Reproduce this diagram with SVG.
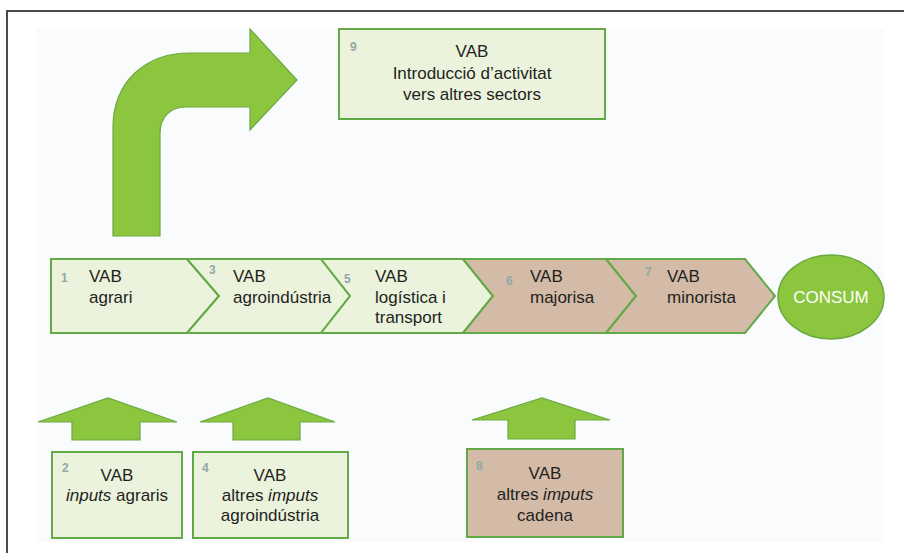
<svg xmlns="http://www.w3.org/2000/svg" width="904" height="553" viewBox="0 0 904 553">
<style>
text{font-family:"Liberation Sans",Arial,sans-serif;font-size:17px;fill:#231f20}
.num{font-size:12px;font-weight:bold;fill:#8fa9a6}
.c{text-anchor:middle}
.box{fill:#ebf3dd;stroke:#62aa45;stroke-width:2}
.tan{fill:#d4bba7;stroke:#62aa45;stroke-width:2}
.arr{fill:#8cc63f;stroke:#6aa940;stroke-width:1.2;stroke-linejoin:miter}
</style>
<rect x="0" y="0" width="904" height="553" fill="#ffffff"/>
<rect x="36" y="29" width="848" height="513" fill="#fafbfd"/>
<path d="M7,553 L7,11 L904,11" fill="none" stroke="#4a4a4a" stroke-width="2"/>

<g id="connectors">
  <path class="arr" d="M113,236 L113,128 C113,82 145,53 190,53 L250,53 L250,29 L297,80 L250,130 L250,107 L186,107 C170,107 160,117 160,134 L160,236 Z"/>
  <path class="arr" d="M72,440 L72,422 L38,422 L108,398 L177,422 L140,422 L140,440 Z"/>
  <path class="arr" d="M233,440 L233,422 L200,422 L268,398 L335,422 L300,422 L300,440 Z"/>
  <path class="arr" d="M508,439 L508,420 L472,420 L542,398 L610,420 L575,420 L575,439 Z"/>
</g>

<g id="node9">
  <rect class="box" x="339" y="29" width="266" height="90"/>
  <text class="num" x="350" y="51">9</text>
  <text class="c" x="472" y="57">VAB</text>
  <text class="c" x="472" y="79">Introducció d’activitat</text>
  <text class="c" x="472" y="100">vers altres sectors</text>
</g>

<g id="node1">
  <path class="box" d="M51,259 L187,259 L219,296 L187,333 L51,333 Z"/>
  <text class="num" x="61" y="282">1</text>
  <text x="89" y="282">VAB</text>
  <text x="89" y="303">agrari</text>
</g>
<g id="node3">
  <path class="box" d="M187,259 L321,259 L350,296 L321,333 L187,333 L219,296 Z"/>
  <text class="num" x="209" y="274">3</text>
  <text x="233" y="282">VAB</text>
  <text x="233" y="303">agroindústria</text>
</g>
<g id="node5">
  <path class="box" d="M321,259 L463,259 L493,296 L463,333 L321,333 L350,296 Z"/>
  <text class="num" x="344" y="283">5</text>
  <text x="375" y="282">VAB</text>
  <text x="375" y="303">logística i</text>
  <text x="375" y="323">transport</text>
</g>
<g id="node6">
  <path class="tan" d="M463,259 L606,259 L636,296 L606,333 L463,333 L493,296 Z"/>
  <text class="num" x="506" y="285">6</text>
  <text x="530" y="282">VAB</text>
  <text x="530" y="303">majorisa</text>
</g>
<g id="node7">
  <path class="tan" d="M606,259 L745,259 L775,296 L745,333 L606,333 L636,296 Z"/>
  <text class="num" x="645" y="276">7</text>
  <text x="667" y="282">VAB</text>
  <text x="667" y="303">minorista</text>
</g>
<g id="consum">
  <ellipse cx="831" cy="297" rx="53" ry="42" fill="#8cc63f" stroke="#6aa940" stroke-width="1.5"/>
  <text class="c" x="831" y="303" style="fill:#ffffff">CONSUM</text>
</g>

<g id="node2">
  <rect class="box" x="52" y="452" width="130" height="86"/>
  <text class="num" x="62" y="472">2</text>
  <text class="c" x="117" y="481">VAB</text>
  <text class="c" x="117" y="501"><tspan font-style="italic">inputs</tspan> agraris</text>
</g>
<g id="node4">
  <rect class="box" x="193" y="452" width="155" height="86"/>
  <text class="num" x="202" y="472">4</text>
  <text class="c" x="270" y="481">VAB</text>
  <text class="c" x="270" y="501">altres <tspan font-style="italic">imputs</tspan></text>
  <text class="c" x="270" y="521">agroindústria</text>
</g>
<g id="node8">
  <rect class="tan" x="467" y="449" width="156" height="88"/>
  <text class="num" x="476" y="470">8</text>
  <text class="c" x="545" y="479">VAB</text>
  <text class="c" x="545" y="500">altres <tspan font-style="italic">imputs</tspan></text>
  <text class="c" x="545" y="521">cadena</text>
</g>
</svg>
